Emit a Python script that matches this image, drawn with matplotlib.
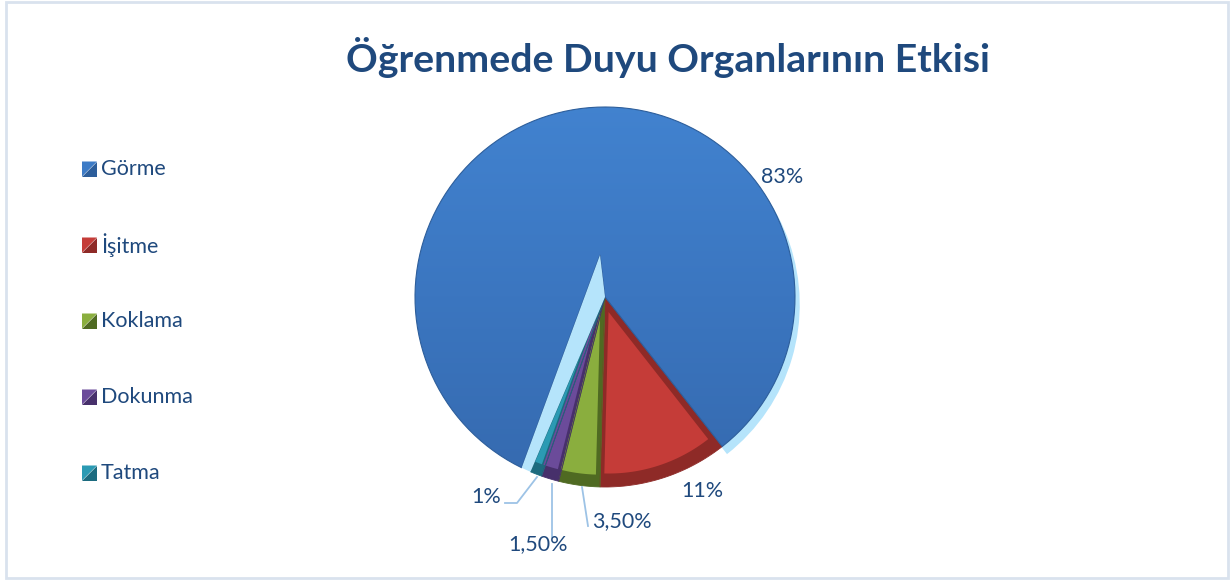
import numpy as np
import matplotlib
matplotlib.use("Agg")
import matplotlib.pyplot as plt
from matplotlib.patches import Polygon, Wedge, Rectangle
from matplotlib.colors import LinearSegmentedColormap

# ---------------------------------------------------------------------------
# data
# ---------------------------------------------------------------------------
title = "Öğrenmede Duyu Organlarının Etkisi"
categories = ["Görme", "İşitme", "Koklama", "Dokunma", "Tatma"]
values = [83, 11, 3.5, 1.5, 1]
pct_labels = ["83%", "11%", "3,50%", "1,50%", "1%"]

# face colour / darker bevel colour for every slice
face_colors = ["#3D7BC6", "#C53C38", "#8AAE3E", "#6B4B9A", "#2B9AB3"]
dark_colors = ["#2D5E9B", "#8E2A27", "#4F6A22", "#47306B", "#1C6B7F"]
side_color = "#B5E4FB"
text_color = "#1F497D"
FONT = ["Lato", "DejaVu Sans"]

# ---------------------------------------------------------------------------
# layout (pixels of the 1232x580 picture)
# ---------------------------------------------------------------------------
W, H = 1232, 580
CX, CY, R = 605, 297, 190
half = 250

fig = plt.figure(figsize=(W / 100, H / 100), dpi=100)
ax = fig.add_axes([(CX - half) / W, (H - CY - half) / H, 2 * half / W, 2 * half / H])


def d(px, py):
    """pixel position -> data units of the pie axes"""
    return (px - CX) / R, (CY - py) / R


def arc(t1, t2, r=1.0, c=(0, 0), n=120):
    t = np.radians(np.linspace(t1, t2, n))
    return np.column_stack([c[0] + r * np.cos(t), c[1] + r * np.sin(t)])


wedges, _ = ax.pie(values, colors=face_colors, startangle=-113.1,
                   counterclock=False, radius=1,
                   wedgeprops=dict(linewidth=0))

# --- Görme: exploded 3D-looking slice -------------------------------------
g = wedges[0]
g.set_visible(False)
gap = 2.9                    # side face seen on the left of the tip
tip = d(600, 255)

# light blue side faces (outer rim on the right, cut face on the left)
rim = Wedge((0.025, -0.04), 1.0, g.theta1 + 360, 90, facecolor=side_color,
            edgecolor="none", zorder=1)
ax.add_patch(rim)
sliver = Polygon(np.vstack([[tip], [[0, 0]], arc(g.theta2, g.theta2 - gap, n=10)]),
                 closed=True, facecolor=side_color, edgecolor="none", zorder=4)
ax.add_patch(sliver)

face_pts = np.vstack([[tip], [[0, 0]], arc(g.theta1, g.theta2 - gap)])
face = Polygon(face_pts, closed=True, facecolor="none", edgecolor="none", zorder=3)
ax.add_patch(face)
cmap = LinearSegmentedColormap.from_list("g", ["#4283D0", "#3B76C0", "#3569AE"])
grad = np.linspace(0, 1, 256)[:, None] * np.ones((1, 8))
img = ax.imshow(grad, cmap=cmap, extent=(-1.05, 1.05, -1.05, 1.05),
                origin="upper", aspect="auto", zorder=3)
img.set_clip_path(face)
ax.add_patch(Polygon(face_pts, closed=True, facecolor="none",
                     edgecolor=dark_colors[0], linewidth=0.8, zorder=3.5))

# --- small slices with a bevel ---------------------------------------------
for w, fc, dc in zip(wedges[1:], face_colors[1:], dark_colors[1:]):
    w.set_facecolor(dc)
    w.set_zorder(2)
    pts = np.vstack([[[0, 0]], arc(w.theta1, w.theta2, n=40)])
    x, y = pts[:, 0], pts[:, 1]
    xs, ys = np.roll(x, -1), np.roll(y, -1)
    cr = x * ys - xs * y
    A = cr.sum() / 2
    c = np.array([((x + xs) * cr).sum(), ((y + ys) * cr).sum()]) / (6 * A)
    inner = c + 0.85 * (pts - c) + np.array([-0.012, 0.014])
    ax.add_patch(Polygon(inner, closed=True, facecolor=fc, edgecolor="none",
                         zorder=2.5))
    ax.add_patch(Polygon(pts, closed=True, facecolor="none", edgecolor=dc,
                         linewidth=0.6, zorder=2.6))

ax.set_xlim(-half / R, half / R)
ax.set_ylim(-half / R, half / R)
ax.set_aspect("equal")
ax.axis("off")

# --- data labels and leader lines -------------------------------------------
label_pos = [(782, 177), (702, 491), (622, 521), (538, 544), (486, 497)]
for txt, (px, py) in zip(pct_labels, label_pos):
    ax.text(*d(px, py), txt, ha="center", va="center", fontsize=15.5,
            color=text_color, family=FONT, zorder=6)

leaders = [
    [(582, 487), (588, 526)],
    [(552, 484), (552, 537)],
    [(537, 477), (517, 503), (505, 503)],
]
for line in leaders:
    xy = np.array([d(*p) for p in line])
    ax.plot(xy[:, 0], xy[:, 1], color="#9DC3E6", linewidth=1.3, zorder=5)

# --- title --------------------------------------------------------------------
fig.text(668 / W, 1 - 57 / H, title, ha="center", va="center", fontsize=28.3,
         fontweight="bold", color=text_color, family=FONT)

# --- legend (bevelled square markers) ------------------------------------------
row_y = [169, 245, 321, 397, 473]
for name, fc, dc, py in zip(categories, face_colors, dark_colors, row_y):
    x0, x1 = 82 / W, 97 / W
    y0, y1 = 1 - (py + 7.5) / H, 1 - (py - 7.5) / H
    fig.patches.append(Polygon([(x0, y1), (x1, y1), (x0, y0)], closed=True,
                               facecolor=fc, edgecolor="none",
                               transform=fig.transFigure))
    fig.patches.append(Polygon([(x1, y1), (x1, y0), (x0, y0)], closed=True,
                               facecolor=dc, edgecolor="none",
                               transform=fig.transFigure))
    fig.text(101 / W, 1 - py / H, name, ha="left", va="center", fontsize=15.5,
             color=text_color, family=FONT)

# chart border
fig.patches.append(Rectangle((6 / W, 2 / H), 1222 / W, 576 / H, fill=False,
                             edgecolor="#D9E2EE", linewidth=2,
                             transform=fig.transFigure))

fig.savefig("out.png", dpi=100)
